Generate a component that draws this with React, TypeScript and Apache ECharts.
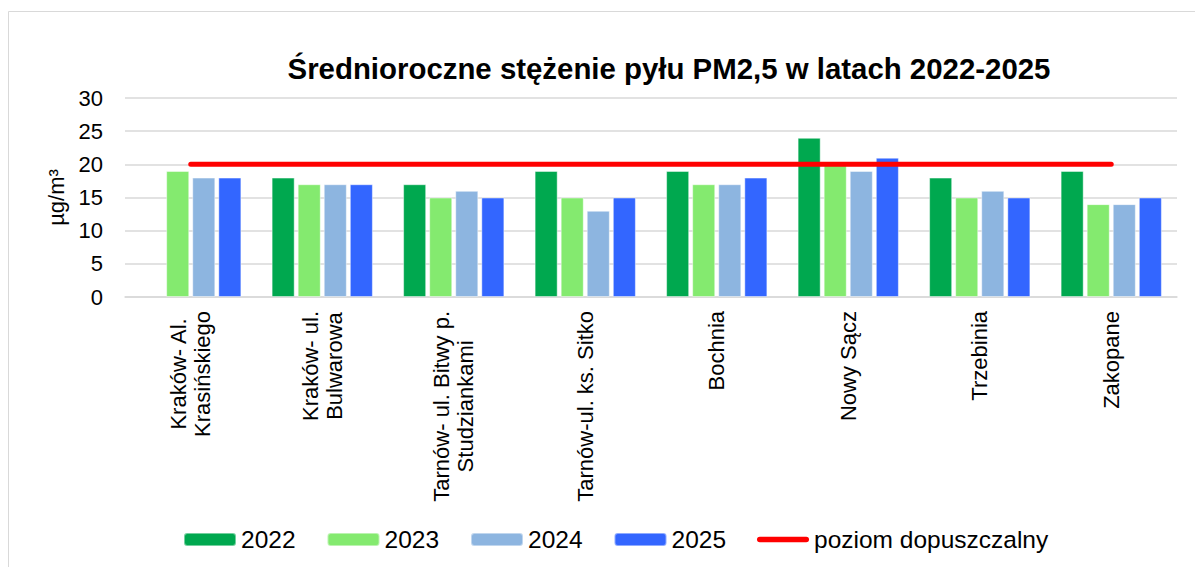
import React, { useEffect, useRef } from "react";
import * as echarts from "echarts";

const categories = [
  "Kraków- Al.\nKrasińskiego",
  "Kraków- ul.\nBulwarowa",
  "Tarnów- ul. Bitwy p.\nStudziankami",
  "Tarnów-ul. ks. Sitko",
  "Bochnia",
  "Nowy Sącz",
  "Trzebinia",
  "Zakopane",
];
const years = ["2022", "2023", "2024", "2025"];
const v2022 = [null, 18, 17, 19, 19, 24, 18, 19];
const v2023 = [19, 17, 15, 15, 17, 20, 15, 14];
const v2024 = [18, 17, 16, 13, 17, 19, 16, 14];
const v2025 = [18, 17, 15, 15, 18, 21, 15, 15];
const limitName = "poziom dopuszczalny";
const limitValues = [20, 20, 20, 20, 20, 20, 20, 20];
const yearColors = ["#00A84F", "#84EA6F", "#8DB5E0", "#3366FF"];
const titleText = "Średnioroczne stężenie pyłu PM2,5 w latach 2022-2025";

export default function App() {
  const ref = useRef<HTMLDivElement>(null);
  useEffect(() => {
    document.body.style.margin = "0";
    const chart = echarts.init(ref.current!, null, { renderer: "svg" });
    const font = "'Liberation Sans', Arial, sans-serif";
    const yearData = [v2022, v2023, v2024, v2025];
    const barSeries = years.map((y, i) => ({
      name: y,
      type: "bar",
      data: yearData[i],
      barGap: "13%",
      barCategoryGap: "23%",
      itemStyle: {
        color: yearColors[i],
        borderColor: "rgba(255,255,255,0.45)",
        borderWidth: 1,
      },
    }));
    chart.setOption({
      animation: false,
      textStyle: { fontFamily: font },
      title: {
        text: titleText,
        left: 664,
        textAlign: "center",
        top: 49,
        textStyle: { fontSize: 29.4, fontWeight: "bold", color: "#000", fontFamily: font },
      },
      graphic: [
        {
          type: "rect",
          shape: { x: 8.5, y: 11.5, width: 1300, height: 700 },
          style: { fill: "none", stroke: "#d9d9d9", lineWidth: 1 },
          silent: true,
        },
      ],
      legend: {
        left: 178,
        top: 522,
        itemWidth: 52,
        itemHeight: 13,
        itemGap: 31,
        textStyle: { fontSize: 24.5, color: "#000", fontFamily: font },
        data: [
          ...years,
          {
            name: limitName,
            icon: "path://M3,0 L53,0 A3,3 0 0 1 53,6 L3,6 A3,3 0 0 1 3,0 Z",
            itemStyle: { color: "#FF0000" },
          },
        ],
      },
      grid: { left: 125, right: 18, top: 98, bottom: 270, containLabel: false },
      xAxis: {
        type: "category",
        data: categories,
        axisLine: { show: true, lineStyle: { color: "#d9d9d9", width: 1.5 } },
        axisTick: { show: false },
        axisLabel: {
          rotate: 90,
          interval: 0,
          margin: 14,
          color: "#000",
          fontSize: 22,
          lineHeight: 24,
          fontFamily: font,
          formatter: (v: string) =>
            v.split("\n").map((l) => `{c|${l}}`).join("\n"),
          rich: {
            c: { align: "center", fontSize: 22, lineHeight: 24, color: "#000", fontFamily: font },
          },
        },
      },
      yAxis: {
        type: "value",
        min: 0,
        max: 30,
        interval: 5,
        name: "µg/m³",
        nameLocation: "middle",
        nameRotate: 90,
        nameGap: 55,
        nameTextStyle: { fontSize: 22, color: "#000", fontFamily: font },
        axisLine: { show: false },
        axisTick: { show: false },
        axisLabel: { margin: 22, fontSize: 22, color: "#000", fontFamily: font },
        splitLine: { lineStyle: { color: "#d9d9d9", width: 1.5 } },
      },
      series: [
        ...barSeries,
        {
          name: limitName,
          type: "line",
          data: limitValues,
          symbol: "none",
          z: 5,
          lineStyle: { color: "#FF0000", width: 5, cap: "round" },
          itemStyle: { color: "#FF0000" },
        },
      ],
    });
    return () => chart.dispose();
  }, []);
  return <div ref={ref} style={{ width: 1195, height: 567 }} />;
}
